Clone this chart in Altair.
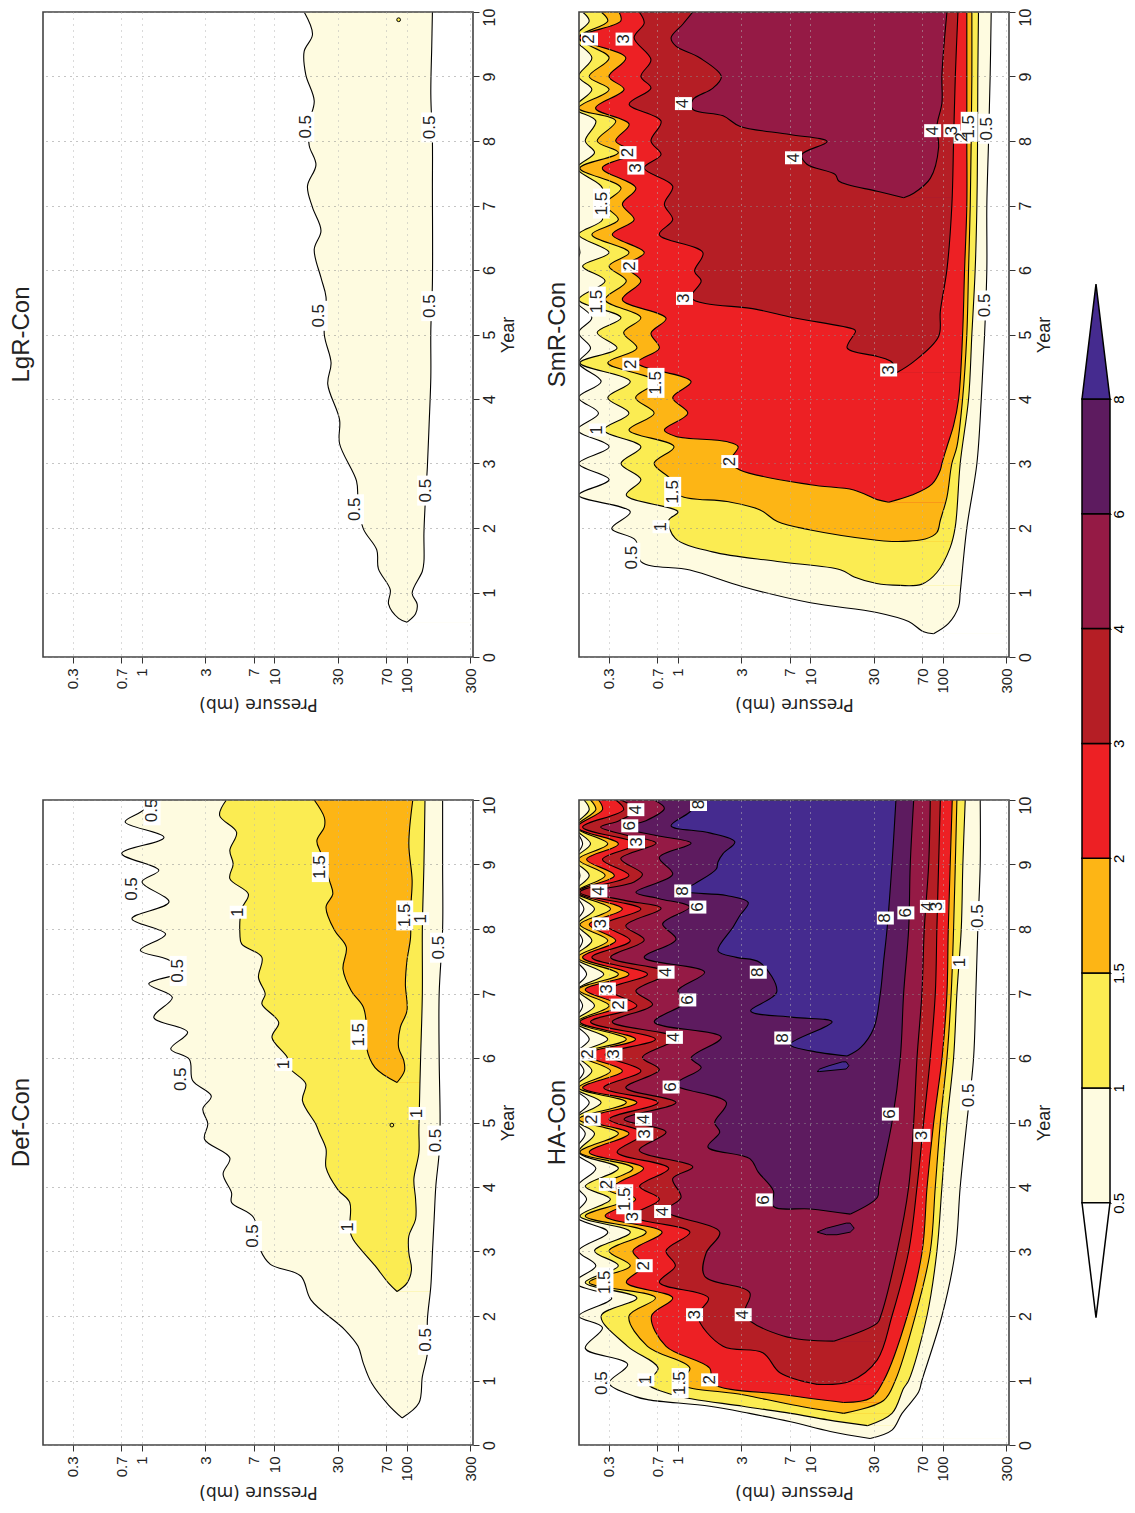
import altair as alt
import pandas as pd

LEVELS = ["0.5", "1", "1.5", "2", "3", "4", "6", "8"]
COLORS = ["#fefbe0", "#fbec52", "#fdb515", "#ed2024", "#b51e25", "#951a45", "#5d1b5f", "#452b8f"]
PRESSURE_TICKS = [0.3, 0.7, 1, 3, 7, 10, 30, 70, 100, 300]
YEAR_TICKS = list(range(11))
P_MIN = 0.179
P_MAX = 315
FILL_END = 400

# Contours: years and log10(pressure in mb).
# ---------- LgR-Con ----------
lgr_top_y = [10, 9.65, 9.39, 9.03, 8.62, 8.29, 7.93, 7.63, 7.3, 6.97, 6.61, 6.32, 5.88, 5.58, 5.0, 4.56, 4.23, 3.68, 3.31, 2.73, 2.43, 1.99, 1.66, 1.37, 1.04, 0.82, 0.6, 0.54]
lgr_top_p = [1.224, 1.287, 1.224, 1.236, 1.3, 1.262, 1.262, 1.313, 1.249, 1.287, 1.351, 1.3, 1.351, 1.389, 1.376, 1.427, 1.402, 1.491, 1.491, 1.619, 1.631, 1.67, 1.772, 1.784, 1.874, 1.861, 1.937, 2.001]
lgr_bot_y = [0.54, 0.67, 0.82, 0.99, 1.33, 1.48, 1.92, 2.51, 2.95, 3.6, 4.34, 5.07, 5.8, 7.27, 8, 8.73, 9.47, 10]
lgr_bot_p = [2.001, 2.065, 2.077, 2.039, 2.116, 2.128, 2.128, 2.141, 2.154, 2.167, 2.18, 2.18, 2.192, 2.192, 2.192, 2.18, 2.187, 2.192]

# ---------- Def-Con ----------
def_top_y_0 = [10, 9.81, 9.66, 9.42, 9.17, 8.91, 8.73, 8.42, 8.16, 7.92, 7.67, 7.53, 7.35, 7.15, 6.94, 6.63, 6.4, 6.14, 5.98, 5.65, 5.41, 5.21, 4.98, 4.74, 4.45, 4.2, 3.91, 3.76, 3.53, 3.03, 2.8, 2.62, 2.25, 1.79, 1.53, 1.27, 0.96, 0.62, 0.42]
def_top_p_0 = [0.127, -0.013, -0.127, 0.166, -0.153, 0.127, 0, 0.204, -0.076, 0.178, -0.013, 0.191, 0.319, 0.051, 0.229, 0.089, 0.344, 0.217, 0.357, 0.382, 0.523, 0.459, 0.497, 0.472, 0.663, 0.612, 0.676, 0.676, 0.841, 0.892, 0.969, 1.198, 1.275, 1.529, 1.631, 1.67, 1.733, 1.861, 1.963]
def_bot_y_0 = [0.42, 0.65, 1.06, 1.42, 1.94, 2.46, 2.98, 3.5, 4.02, 4.53, 5, 6, 7, 8, 9, 10]
def_bot_p_0 = [1.963, 2.09, 2.116, 2.154, 2.154, 2.18, 2.192, 2.205, 2.218, 2.243, 2.25, 2.243, 2.243, 2.269, 2.269, 2.269]
def_top_y_1 = [10, 9.76, 9.5, 9.22, 9.01, 8.78, 8.54, 8.31, 7.92, 7.77, 7.56, 7.25, 6.99, 6.84, 6.55, 6.32, 6.01, 5.83, 5.6, 5.34, 4.97, 4.84, 4.59, 4.3, 3.96, 3.76, 3.34, 3.19, 2.78, 2.51, 2.38]
def_top_p_1 = [0.637, 0.586, 0.714, 0.663, 0.688, 0.663, 0.803, 0.752, 0.739, 0.752, 0.905, 0.879, 0.93, 0.905, 1.032, 0.981, 1.096, 1.122, 1.236, 1.211, 1.313, 1.338, 1.389, 1.389, 1.478, 1.568, 1.568, 1.593, 1.759, 1.861, 1.925]
def_bot_y_1 = [2.38, 2.51, 2.72, 2.98, 3.24, 3.5, 3.81, 4.12, 4.53, 4.9, 6.01, 7, 8, 9, 10]
def_bot_p_1 = [1.925, 2.0, 2.034, 2.014, 2.014, 2.065, 2.065, 2.052, 2.09, 2.09, 2.103, 2.116, 2.116, 2.128, 2.136]
def_top_y_2 = [10, 9.73, 9.58, 9.37, 9.17, 8.75, 8.54, 8.34, 7.98, 7.72, 7.38, 7.04, 6.79, 6.48, 6.16, 5.85, 5.62]
def_top_p_2 = [1.3, 1.376, 1.376, 1.32, 1.351, 1.415, 1.44, 1.389, 1.453, 1.542, 1.517, 1.58, 1.67, 1.695, 1.695, 1.759, 1.925]
def_bot_y_2 = [5.62, 5.8, 5.96, 6.16, 6.48, 6.73, 7.15, 7.51, 7.87, 8.29, 8.75, 9.32, 10]
def_bot_p_2 = [1.925, 1.981, 1.976, 1.937, 1.95, 2.0, 1.988, 2.0, 2.027, 2.027, 2.039, 2.014, 2.044]

# ---------- SmR-Con ----------
SMR_YEARS = [10, 9.86, 9.6, 9.29, 9.0, 8.8, 8.51, 8.31, 8.0, 7.82, 7.58, 7.27, 7.02, 6.78, 6.55, 6.27, 6.06, 5.83, 5.54, 5.26, 5.03, 4.79, 4.56, 4.27, 4.02, 3.78, 3.52, 3.26, 3.0, 2.75, 2.51]
smr_top_y_0 = SMR_YEARS + [2.25, 1.99, 1.81, 1.48, 1.35, 1.09, 0.84, 0.69, 0.55, 0.39, 0.36]
smr_top_p_0 = [-0.78] * 15 + [-0.74, -0.78, -0.75, -0.78, -0.65, -0.75, -0.66, -0.75, -0.58, -0.75, -0.60, -0.76, -0.52, -0.75, -0.52, -0.75, -0.36, -0.50, -0.32, -0.28, 0.09, 0.49, 1.0, 1.5, 1.741, 1.854, 1.929]
smr_bot_y_0 = [0.36, 0.52, 0.78, 1, 2, 3, 4, 5, 6, 7, 8, 9, 10]
smr_bot_p_0 = [1.929, 2.042, 2.118, 2.13, 2.18, 2.256, 2.289, 2.314, 2.331, 2.331, 2.344, 2.356, 2.364]
smr_top_y_1 = SMR_YEARS + [2.25, 2.12, 1.84, 1.63, 1.48, 1.35, 1.24, 1.14, 1.11]
smr_top_p_1 = [-0.72, -0.67, -0.78, -0.65, -0.75, -0.65, -0.78, -0.62, -0.70, -0.63, -0.76, -0.57, -0.62, -0.57, -0.75, -0.52, -0.72, -0.55, -0.75, -0.43, -0.61, -0.46, -0.74, -0.36, -0.53, -0.37, -0.56, -0.28, -0.43, -0.28, -0.39, 0, -0.07, -0.02, 0.26, 0.75, 1.23, 1.33, 1.5, 1.68]
smr_bot_y_1 = [1.11, 1.13, 1.31, 1.7, 2.02, 3, 4, 5, 6, 7, 8, 9, 10]
smr_bot_p_1 = [1.68, 1.841, 1.954, 2.055, 2.093, 2.13, 2.193, 2.218, 2.243, 2.256, 2.261, 2.263, 2.268]
smr_top_y_2 = SMR_YEARS + [2.41, 2.28, 2.10, 1.97, 1.81, 1.79]
smr_top_p_2 = [-0.58, -0.53, -0.75, -0.52, -0.67, -0.52, -0.75, -0.47, -0.61, -0.45, -0.74, -0.43, -0.55, -0.45, -0.65, -0.37, -0.52, -0.39, -0.55, -0.28, -0.41, -0.31, -0.53, -0.17, -0.32, -0.18, -0.37, -0.03, -0.18, -0.05, 0.01, 0.37, 0.62, 0.75, 1.0, 1.5, 1.615]
smr_bot_y_2 = [1.79, 1.83, 1.93, 2.12, 2.48, 3, 3.26, 4, 5, 6, 7, 8, 9, 10]
smr_bot_p_2 = [1.615, 1.866, 1.954, 1.98, 2.03, 2.067, 2.105, 2.148, 2.18, 2.193, 2.206, 2.213, 2.218, 2.218]
smr_top_y_3 = [10, 9.86, 9.6, 9.29, 9.0, 8.8, 8.51, 8.26, 8.0, 7.82, 7.58, 7.27, 7.02, 6.78, 6.55, 6.27, 6.06, 5.83, 5.54, 5.25, 5.02, 4.79, 4.56, 4.27, 4.02, 3.78, 3.52, 3.42, 3.34, 3.26, 3.03, 2.9, 2.67, 2.59, 2.44, 2.40]
smr_top_p_3 = [-0.445, -0.432, -0.749, -0.394, -0.521, -0.407, -0.622, -0.369, -0.47, -0.331, -0.571, -0.318, -0.42, -0.331, -0.496, -0.255, -0.394, -0.28, -0.42, -0.09, -0.204, -0.141, -0.306, 0.099, -0.04, 0.074, -0.103, -0.015, 0.365, 0.454, 0.39, 0.467, 1.0, 1.327, 1.504, 1.59]
smr_bot_y_3 = [2.40, 2.51, 2.68, 2.9, 3, 3.26, 3.59, 4, 5, 6, 7, 8, 9, 10]
smr_bot_p_3 = [1.59, 1.766, 1.917, 1.98, 1.992, 2.03, 2.08, 2.118, 2.148, 2.163, 2.18, 2.18, 2.18, 2.18]
smr_top_y_4 = [10, 9.83, 9.6, 9.26, 9.0, 8.82, 8.57, 8.31, 8.0, 7.79, 7.58, 7.3, 7.02, 6.78, 6.55, 6.27, 5.98, 5.83, 5.57, 5.39, 5.26, 5.08, 5.05, 4.79, 4.66, 4.57, 4.41]
smr_top_p_4 = [-0.293, -0.255, -0.331, -0.204, -0.28, -0.204, -0.369, -0.128, -0.204, -0.128, -0.255, -0.04, -0.103, -0.04, -0.141, 0.188, 0.125, 0.175, 0.1, 0.593, 0.872, 1.327, 1.34, 1.277, 1.504, 1.615, 1.653]
smr_bot_y_4 = [4.41, 4.58, 4.97, 5.36, 6.01, 7.0, 8.0, 9.0, 10]
smr_bot_p_4 = [1.653, 1.779, 1.967, 1.98, 2.03, 2.067, 2.08, 2.093, 2.113]
smr_top_y_5 = [10, 9.81, 9.6, 9.47, 9.29, 9.0, 8.82, 8.64, 8.49, 8.39, 8.23, 8.1, 7.99, 7.79, 7.64, 7.48, 7.38, 7.22, 7.12]
smr_top_p_5 = [0.112, 0.036, -0.052, -0.015, 0.163, 0.327, 0.264, 0.112, 0.112, 0.34, 0.466, 0.846, 1.125, 0.935, 0.973, 1.188, 1.213, 1.504, 1.703]
smr_bot_y_5 = [7.12, 7.19, 7.42, 7.9, 8.23, 8.59, 9.02, 10]
smr_bot_p_5 = [1.703, 1.779, 1.904, 1.967, 1.954, 1.992, 1.992, 2.03]

# ---------- HA-Con ----------
HA_YEARS = [10, 9.85, 9.58, 9.32, 9.08, 8.83, 8.57, 8.31, 8.07, 7.82, 7.56, 7.30, 7.06, 6.81, 6.56, 6.29, 6.05, 5.80, 5.54, 5.31, 5.05, 4.83, 4.54, 4.29, 4.01, 3.81, 3.55, 3.30, 3.01, 2.78, 2.52, 2.28, 2.0]
ha_top_y_0 = HA_YEARS + [1.82, 1.5, 1.25, 0.96, 0.75, 0.70, 0.60, 0.49, 0.36, 0.21, 0.10]
ha_top_p_0 = [-0.78, -0.78, -0.78, -0.72, -0.78, -0.74, -0.78, -0.71, -0.78, -0.72, -0.78, -0.69, -0.78, -0.72, -0.78, -0.67, -0.78, -0.71, -0.78, -0.67, -0.78, -0.70, -0.78, -0.62, -0.76, -0.69, -0.78, -0.53, -0.75, -0.62, -0.78, -0.50, -0.75, -0.57, -0.70, -0.38, -0.52, -0.32, -0.22, 0.24, 0.54, 0.85, 1.15, 1.45]
ha_bot_y_0 = [0.10, 0.23, 0.49, 0.82, 1, 2, 3, 4, 5, 6, 7, 8, 9, 10]
ha_bot_p_0 = [1.45, 1.615, 1.691, 1.816, 1.841, 1.992, 2.093, 2.13, 2.18, 2.231, 2.248, 2.263, 2.281, 2.281]
ha_top_y_1 = HA_YEARS + [1.53, 1.19, 0.96, 0.78, 0.60, 0.49, 0.39, 0.30]
ha_top_p_1 = [-0.71, -0.67, -0.78, -0.66, -0.78, -0.67, -0.78, -0.63, -0.76, -0.65, -0.78, -0.56, -0.76, -0.63, -0.78, -0.53, -0.76, -0.65, -0.78, -0.58, -0.78, -0.63, -0.75, -0.45, -0.70, -0.51, -0.74, -0.36, -0.63, -0.45, -0.70, -0.31, -0.58, -0.38, -0.15, -0.23, -0.04, 0.49, 0.85, 1.13, 1.43]
ha_bot_y_1 = [0.30, 0.49, 0.88, 1, 2, 3, 4, 5, 6, 7, 8, 9, 10]
ha_bot_p_1 = [1.43, 1.615, 1.703, 1.741, 1.879, 1.954, 1.992, 2.03, 2.08, 2.105, 2.138, 2.15, 2.168]
ha_top_y_2 = HA_YEARS + [1.53, 1.19, 0.96, 0.78, 0.62, 0.49]
ha_top_p_2 = [-0.66, -0.62, -0.77, -0.53, -0.75, -0.55, -0.77, -0.51, -0.74, -0.53, -0.76, -0.45, -0.75, -0.52, -0.76, -0.39, -0.75, -0.51, -0.75, -0.39, -0.75, -0.45, -0.74, -0.34, -0.58, -0.39, -0.70, -0.24, -0.52, -0.36, -0.67, -0.17, -0.37, -0.23, 0.09, 0.01, 0.49, 0.87, 1.25]
ha_bot_y_2 = [0.49, 0.69, 1, 2, 3, 4, 5, 6, 7, 8, 10]
ha_bot_p_2 = [1.25, 1.552, 1.64, 1.791, 1.904, 1.942, 1.98, 2.03, 2.062, 2.08, 2.105]
ha_top_y_3 = HA_YEARS + [1.53, 1.19, 0.96, 0.78, 0.66]
ha_top_p_3 = [-0.60, -0.57, -0.76, -0.45, -0.69, -0.48, -0.76, -0.42, -0.67, -0.47, -0.72, -0.37, -0.70, -0.45, -0.74, -0.32, -0.70, -0.42, -0.72, -0.31, -0.70, -0.37, -0.67, -0.26, -0.48, -0.32, -0.55, -0.12, -0.34, -0.26, -0.39, -0.04, -0.20, -0.09, 0.24, 0.26, 0.80, 1.25]
ha_bot_y_3 = [0.66, 0.73, 1, 2, 3, 4, 5, 6, 7, 8, 10]
ha_bot_p_3 = [1.25, 1.455, 1.553, 1.73, 1.843, 1.88, 1.93, 1.993, 2.03, 2.04, 2.07]
ha_top_y_4 = HA_YEARS + [1.53, 1.43, 1.12, 0.94]
ha_top_p_4 = [-0.47, -0.41, -0.72, -0.32, -0.57, -0.37, -0.74, -0.28, -0.55, -0.36, -0.65, -0.23, -0.52, -0.31, -0.66, -0.17, -0.55, -0.28, -0.56, -0.15, -0.52, -0.26, -0.46, -0.07, -0.29, -0.14, -0.34, 0.09, -0.09, -0.02, -0.14, 0.23, 0.15, 0.34, 0.64, 0.77, 1.05]
ha_bot_y_4 = [0.94, 0.99, 1.32, 2, 3, 4, 5, 6, 7, 8, 9, 10]
ha_bot_p_4 = [1.05, 1.30, 1.504, 1.615, 1.741, 1.804, 1.854, 1.904, 1.942, 1.954, 1.967, 1.98]
ha_top_y_5 = [10, 9.85, 9.68, 9.58, 9.45, 9.33, 9.09, 8.85, 8.73, 8.57, 8.44, 8.32, 8.05, 7.83, 7.56, 7.32, 7.04, 6.83, 6.56, 6.31, 6.01, 5.82, 5.54, 5.31, 5.05, 4.85, 4.57, 4.31, 4.13, 3.84, 3.63, 3.30, 2.98, 2.62, 2.36, 2.02, 1.69, 1.61]
ha_top_p_5 = [-0.432, -0.318, -0.445, -0.584, -0.382, -0.166, -0.432, -0.268, -0.331, -0.647, -0.394, -0.128, -0.394, -0.255, -0.508, -0.078, -0.318, -0.192, -0.496, -0.015, -0.268, -0.141, -0.394, -0.015, -0.407, -0.09, -0.293, 0.112, -0.04, 0.023, -0.09, 0.315, 0.213, 0.2, 0.542, 0.504, 0.796, 1.175]
ha_bot_y_5 = [1.61, 1.89, 2, 3, 4, 5, 6, 7, 8, 9, 10]
ha_bot_p_5 = [1.175, 1.504, 1.53, 1.653, 1.741, 1.779, 1.804, 1.841, 1.859, 1.892, 1.904]
ha_top_y_6 = [10, 9.87, 9.68, 9.58, 9.45, 9.33, 9.11, 8.85, 8.57, 8.47, 8.34, 8.08, 7.84, 7.56, 7.33, 7.04, 6.89, 6.56, 6.32, 6.0, 5.85, 5.59, 5.31, 5.0, 4.85, 4.62, 4.44, 4.23, 3.94, 3.70, 3.66, 3.58]
ha_top_p_6 = [-0.179, -0.103, -0.242, -0.42, -0.166, 0.099, -0.141, -0.04, -0.318, -0.141, 0.087, -0.116, -0.015, -0.255, 0.201, -0.002, 0.074, -0.179, 0.327, 0.099, 0.175, -0.015, 0.365, 0.277, 0.315, 0.226, 0.542, 0.606, 0.72, 0.72, 1.0, 1.302]
ha_bot_y_6 = [3.58, 3.84, 4, 5, 6, 7, 8, 9, 10]
ha_bot_p_6 = [1.302, 1.505, 1.515, 1.615, 1.678, 1.703, 1.741, 1.753, 1.779]
ha_top_y_7 = [10, 9.81, 9.6, 9.49, 9.35, 9.17, 9.04, 8.93, 8.70, 8.59, 8.52, 8.41, 8.21, 8.03, 7.66, 7.56, 7.48, 7.02, 6.73, 6.63, 6.56, 6.21, 6.11, 6.03]
ha_top_p_7 = [0.175, 0.087, -0.052, 0.239, 0.429, 0.34, 0.302, 0.289, 0.125, 0.036, 0.365, 0.53, 0.467, 0.416, 0.302, 0.441, 0.618, 0.745, 0.548, 0.872, 1.163, 0.846, 1.0, 1.277]
ha_bot_y_7 = [6.03, 6.16, 6.47, 7, 7.5, 8, 9, 10]
ha_bot_p_7 = [1.277, 1.378, 1.479, 1.527, 1.552, 1.578, 1.615, 1.645]

# Closed islands: year, left log10 p, right log10 p
ha_islands = [
    ("6", [3.26, 3.30, 3.36, 3.44], [1.12, 1.05, 1.12, 1.27], [1.2, 1.30, 1.33, 1.30]),
    ("8", [5.79, 5.83, 5.88, 5.94], [1.05, 1.07, 1.14, 1.24], [1.07, 1.27, 1.29, 1.27]),
]

# Contour labels: (year, log10 p, text)
lgr_labels = [(8.22, 1.236, "0.5"), (8.21, 2.172, "0.5"), (5.29, 1.338, "0.5"), (5.44, 2.172, "0.5"), (2.29, 1.611, "0.5"), (2.58, 2.141, "0.5")]
def_labels = [(9.84, 0.076, "0.5"), (8.62, -0.076, "0.5"), (7.35, 0.273, "0.5"), (5.67, 0.293, "0.5"),
              (8.26, 0.726, "1"), (5.9, 1.071, "1"), (5.14, 2.077, "1"), (8.16, 2.103, "1"),
              (8.96, 1.346, "1.5"), (8.21, 1.983, "1.5"), (6.36, 1.637, "1.5"), (7.71, 2.238, "0.5"),
              (4.72, 2.218, "0.5"), (3.24, 0.841, "0.5"), (1.63, 2.146, "0.5"), (3.38, 1.555, "1")]
smr_labels = [(9.58, -0.668, "2"), (9.58, -0.407, "3"), (8.58, 0.041, "4"), (7.82, -0.377, "2"), (7.58, -0.318, "3"),
              (7.74, 0.872, "4"), (7.03, -0.577, "1.5"), (6.06, -0.364, "2"), (5.51, -0.609, "1.5"), (5.56, 0.049, "3"),
              (4.54, -0.356, "2"), (4.25, -0.166, "1.5"), (3.52, -0.609, "1"), (3.03, 0.391, "2"), (2.56, -0.04, "1.5"),
              (2.02, -0.128, "1"), (1.54, -0.349, "0.5"), (4.45, 1.59, "3"), (8.16, 1.922, "4"), (8.16, 2.067, "3"),
              (8.06, 2.143, "2"), (8.22, 2.198, "1.5"), (8.19, 2.331, "0.5"), (5.45, 2.318, "0.5")]
ha_labels = [(9.85, -0.318, "4"), (9.93, 0.155, "8"), (9.6, -0.364, "6"), (9.35, -0.313, "3"), (8.59, -0.597, "4"),
             (8.59, 0.036, "8"), (8.34, 0.15, "6"), (8.08, -0.584, "3"), (7.33, -0.09, "4"), (7.33, 0.606, "8"),
             (7.07, -0.533, "3"), (6.9, 0.074, "6"), (6.82, -0.445, "2"), (6.32, -0.027, "4"), (6.31, 0.791, "8"),
             (6.06, -0.68, "2"), (6.06, -0.483, "3"), (5.55, -0.052, "6"), (5.05, -0.647, "2"), (5.05, -0.26, "4"),
             (4.82, -0.25, "3"), (4.04, -0.533, "2"), (3.81, -0.402, "1.5"), (3.54, -0.339, "3"), (3.62, -0.116, "4"),
             (3.8, 0.651, "6"), (2.78, -0.255, "2"), (2.52, -0.551, "1.5"), (2.02, 0.125, "3"), (2.02, 0.492, "4"),
             (0.96, -0.577, "0.5"), (1.01, -0.242, "1"), (0.96, 0.016, "1.5"), (1.01, 0.239, "2"),
             (8.17, 1.565, "8"), (8.25, 1.72, "6"), (8.35, 1.89, "4"), (8.35, 1.954, "3"), (7.48, 2.13, "1"),
             (8.2, 2.268, "0.5"), (5.13, 1.603, "6"), (4.8, 1.841, "3"), (5.42, 2.193, "0.5")]

# Small closed spots: (year, log10 p)
def_spots = [(4.96, 1.886)]
lgr_spots = [(9.88, 1.937)]

FONT = "Liberation Sans"
CURVE = "catmull-rom"

x_enc = alt.X(
    "p:Q",
    scale=alt.Scale(type="log", domain=[P_MIN, P_MAX], nice=False),
    axis=alt.Axis(
        values=PRESSURE_TICKS, title="Pressure  (mb)", titleAngle=180, titleFont="DejaVu Sans", titleFontSize=17,
        titleFontWeight="normal", titleColor="#222", titlePadding=18, labelAngle=270, labelFont=FONT, labelFontSize=15,
        labelColor="#222", labelExpr="'' + datum.value", labelOverlap=False, labelPadding=5, tickSize=6, tickColor="#333",
        domain=False, grid=True, gridDash=[1, 5], gridColor="#b5b5b5", zindex=1,
    ),
)
y_enc = alt.Y(
    "year:Q",
    scale=alt.Scale(domain=[0, 10], nice=False),
    axis=alt.Axis(
        orient="right", values=YEAR_TICKS, title="Year", titleAngle=270, titleFont=FONT, titleFontSize=18,
        titleFontWeight="normal", titleColor="#222", titlePadding=20, labelAngle=270, labelFont=FONT, labelFontSize=16,
        labelColor="#222", labelOverlap=False, labelPadding=2, tickSize=6, tickColor="#333", domain=False,
        labelOffset={"condition": {"test": "datum.value === 10", "value": 5}, "value": 0},
        grid=True, gridDash=[1, 5], gridColor="#8a8a8a", zindex=1,
    ),
)


def frame(years, logs):
    return pd.DataFrame(
        [{"year": y, "p": 10 ** l, "edge": FILL_END, "i": i} for i, (y, l) in enumerate(zip(years, logs, strict=True))]
    )


def panel(title, tops, bots, islands=(), labels=(), spots=()):
    layers = []
    n = len(tops)
    for k in range(n):
        layers.append(alt.Chart(frame(*tops[k])).mark_area(orient="horizontal", color=COLORS[k], clip=True, interpolate=CURVE).encode(x=x_enc, x2="edge:Q", y=y_enc))
    for k in range(n - 1, -1, -1):
        below = COLORS[k - 1] if k > 0 else "#ffffff"
        layers.append(alt.Chart(frame(*bots[k])).mark_area(orient="horizontal", color=below, clip=True, interpolate=CURVE).encode(x=x_enc, x2="edge:Q", y=y_enc))
    for level, years, left, right in islands:
        isl = pd.DataFrame({"year": years, "p": [10 ** v for v in left], "edge": [10 ** v for v in right]})
        layers.append(alt.Chart(isl).mark_area(orient="horizontal", color=COLORS[LEVELS.index(level)], stroke="black", strokeWidth=1, clip=True).encode(x=x_enc, x2="edge:Q", y=y_enc))
    for part in list(tops) + list(bots):
        layers.append(alt.Chart(frame(*part)).mark_line(color="black", strokeWidth=1.1, clip=True, interpolate=CURVE).encode(x=x_enc, y=y_enc, order="i:Q"))
    if spots:
        sp = pd.DataFrame({"year": [s[0] for s in spots], "p": [10 ** s[1] for s in spots]})
        layers.append(alt.Chart(sp).mark_point(filled=True, color="#fbec52", stroke="black", strokeWidth=1, size=14, opacity=1, clip=True).encode(x=x_enc, y=y_enc))
    if labels:
        lab = pd.DataFrame({"year": [a[0] for a in labels], "p": [10 ** a[1] for a in labels], "t": [a[2] for a in labels]})
        short = lab[lab.t.str.len() == 1]
        long_ = lab[lab.t.str.len() > 1]
        if len(short):
            layers.append(alt.Chart(short).mark_rect(color="white", width=17, height=13, clip=True).encode(x=x_enc, y=y_enc))
        if len(long_):
            layers.append(alt.Chart(long_).mark_rect(color="white", width=17, height=30, clip=True).encode(x=x_enc, y=y_enc))
        layers.append(alt.Chart(lab).mark_text(angle=270, font=FONT, fontSize=17, color="#222", clip=True).encode(x=x_enc, y=y_enc, text="t:N"))
    border = pd.DataFrame({"p": [P_MIN], "edge": [P_MAX], "year": [0], "year2": [10]})
    layers.append(alt.Chart(border).mark_rect(filled=False, stroke="#444", strokeWidth=1.6).encode(x=x_enc, x2="edge:Q", y=y_enc, y2="year2:Q"))
    return alt.layer(*layers).properties(
        width=430, height=645,
        title=alt.TitleParams(title, orient="left", angle=270, anchor="middle", font=FONT, fontSize=24, fontWeight="normal", color="#222", offset=8),
    )


def pairs(prefix, n):
    g = globals()
    return [(g[f"{prefix}_top_y_{k}"], g[f"{prefix}_top_p_{k}"]) for k in range(n)], [(g[f"{prefix}_bot_y_{k}"], g[f"{prefix}_bot_p_{k}"]) for k in range(n)]


lgr = panel("LgR-Con", [(lgr_top_y, lgr_top_p)], [(lgr_bot_y, lgr_bot_p)], labels=lgr_labels, spots=lgr_spots)
smr = panel("SmR-Con", *pairs("smr", 6), labels=smr_labels)
deff = panel("Def-Con", *pairs("def", 3), labels=def_labels, spots=def_spots)
ha = panel("HA-Con", *pairs("ha", 8), islands=ha_islands, labels=ha_labels)

# Colour bar
bar_df = pd.DataFrame({"i0": list(range(7)), "i1": list(range(1, 8)), "c": COLORS[:7]})
tips = [([-1, 0], [0.5, 0], [0.5, 1], "#ffffff"), ([7, 8], [0, 0.5], [1, 0.5], COLORS[7])]
bar_x = alt.X("a:Q", scale=alt.Scale(domain=[0, 1], nice=False), axis=None)
bar_y_axis = alt.Axis(orient="right", values=list(range(8)), labelExpr="['0.5','1','1.5','2','3','4','6','8'][datum.value]", labelAngle=270,
                      labelFont=FONT, labelFontSize=15, labelColor="black", labelPadding=0, tickSize=1, tickColor="black",
                      domain=False, grid=False, title=None, labelOverlap=False)
bar_y_scale = alt.Scale(domain=[-2.11, 10.37], nice=False)
bar_layers = [
    alt.Chart(bar_df.assign(a=0, b=1)).mark_rect(stroke="black", strokeWidth=1.5).encode(
        x=bar_x, x2="b:Q", y=alt.Y("i0:Q", scale=bar_y_scale, axis=bar_y_axis), y2="i1:Q", color=alt.Color("c:N", scale=None))
]
for ys, a, b, c in tips:
    t = pd.DataFrame({"i": ys, "a": a, "b": b})
    bar_layers.append(alt.Chart(t).mark_area(orient="horizontal", color=c, stroke="black", strokeWidth=1.5).encode(
        x=bar_x, x2="b:Q", y=alt.Y("i:Q", scale=bar_y_scale, axis=bar_y_axis)))
bar = alt.layer(*bar_layers).properties(width=28, height=1433, view=alt.ViewBackground(stroke=None))

chart = alt.hconcat(
    alt.vconcat(
        alt.hconcat(lgr, smr, spacing=29),
        alt.hconcat(deff, ha, spacing=29),
        spacing=83,
    ),
    bar, spacing=26,
).configure_view(stroke=None).properties(padding={"left": 2, "top": 0, "right": 0, "bottom": 12})

chart.save("out.html", embed_options={"renderer": "svg", "actions": False})
